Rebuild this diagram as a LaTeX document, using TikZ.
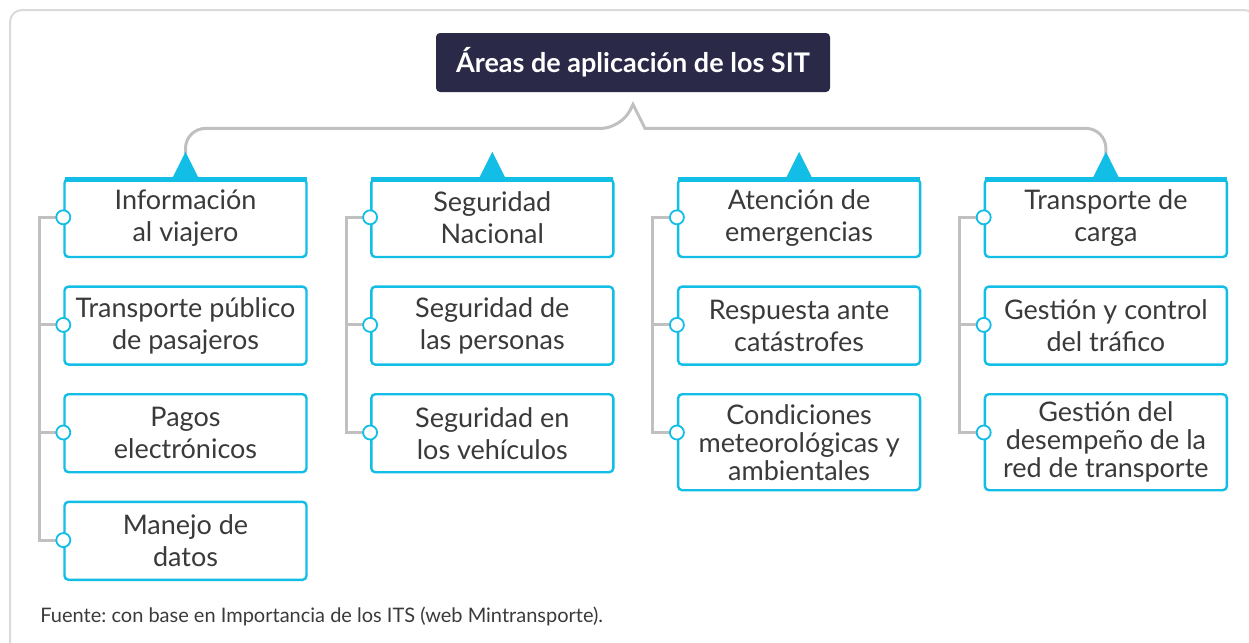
\documentclass[tikz,border=0pt]{standalone}
\usepackage{fontspec}
\setmainfont{Lato}
\frenchspacing
\usetikzlibrary{positioning,backgrounds}
\definecolor{sitcyan}{RGB}{18,189,230}
\definecolor{sitnavy}{RGB}{42,42,72}
\definecolor{sitgray}{RGB}{192,192,192}
\definecolor{sitframe}{RGB}{218,218,218}
\definecolor{sittext}{RGB}{58,58,58}
\begin{document}
\begin{tikzpicture}[
  x=0.5pt, y=-0.5pt,
  node distance=13.6pt and 31.2pt,
  area/.style={draw=sitcyan, line width=1.2pt, rounded corners=2pt, fill=white, text=sittext, align=center,
    font=\fontsize{13.5}{16}\selectfont, minimum width=121pt, minimum height=39pt, inner sep=2pt},
  tall/.style={minimum height=48pt, font=\fontsize{13.5}{14}\selectfont},
  title/.style={fill=sitnavy, text=white, rounded corners=2pt, font=\bfseries\fontsize{13.5}{16}\selectfont,
    minimum width=197pt, minimum height=29.5pt},
  dot/.style={circle, draw=sitcyan, fill=white, line width=0.9pt, minimum size=7pt, inner sep=0pt},
  link/.style={draw=sitgray, line width=1.5pt}
]
\useasboundingbox (0,0) rectangle (1249,643);
\clip (0,0) rectangle (1249,643);
\draw[sitframe, line width=1pt, rounded corners=6pt] (10,10) rectangle (1256,660);

\node[title] (sit) at (633,62.5) {Áreas de aplicación de los SIT};

% columnas
\node[area] (info) at (185.5,218) {Información\\al viajero};
\node[area, below=of info] (publico) {Transporte público\\de pasajeros};
\node[area, below=of publico] (pagos) {Pagos\\electrónicos};
\node[area, below=of pagos] (datos) {Manejo de\\datos};

\node[area, right=of info] (nacional) {Seguridad\\Nacional};
\node[area, below=of nacional] (personas) {Seguridad de\\las personas};
\node[area, below=of personas] (vehiculos) {Seguridad en\\los vehículos};

\node[area, right=of nacional] (emergencias) {Atención de\\emergencias};
\node[area, below=of emergencias] (catastrofes) {Respuesta ante\\catástrofes};
\node[area, tall, below=of catastrofes] (clima) {Condiciones\\meteorológicas y\\ambientales};

\node[area, right=of emergencias] (carga) {Transporte de\\carga};
\node[area, below=of carga] (trafico) {Gestión y control\\del tráfico};
\node[area, tall, below=of trafico] (desempeno) {Gestión del\\desempeño de la\\red de transporte};

% borde superior y triangulos
\foreach \n in {info,nacional,emergencias,carga} {
  \draw[sitcyan, line width=2.6pt] ([xshift=0.6pt,yshift=-0.8pt]\n.north west) -- ([xshift=-0.6pt,yshift=-0.8pt]\n.north east);
  \fill[sitcyan] ([xshift=-6.5pt]\n.north) -- ++(13,-26) -- ++(13,26) -- cycle;
}

% puntos
\foreach \n/\d in {info/d11,publico/d12,pagos/d13,datos/d14,
                   nacional/d21,personas/d22,vehiculos/d23,
                   emergencias/d31,catastrofes/d32,clima/d33,
                   carga/d41,trafico/d42,desempeno/d43}
  \node[dot] (\d) at ([yshift=-19.75pt]\n.north west) {};

\coordinate (notch) at ([yshift=-6pt]sit.south);

\begin{scope}[on background layer]
\draw[link] ([yshift=12pt]info.north) [rounded corners=10pt] |- ([xshift=-6pt,yshift=-12pt]notch)
  [sharp corners] -- (notch) -- ([xshift=6pt,yshift=-12pt]notch)
  [rounded corners=10pt] -| ([yshift=12pt]carga.north);
\draw[link] (d11.center) -- ++(-24,0) |- (d14.center);
\draw[link] (d12.center) -- ++(-24,0);
\draw[link] (d13.center) -- ++(-24,0);
\draw[link] (d21.center) -- ++(-24,0) |- (d23.center);
\draw[link] (d22.center) -- ++(-24,0);
\draw[link] (d31.center) -- ++(-24,0) |- (d33.center);
\draw[link] (d32.center) -- ++(-24,0);
\draw[link] (d41.center) -- ++(-24,0) |- (d43.center);
\draw[link] (d42.center) -- ++(-24,0);
\end{scope}

\node[anchor=west, inner sep=0pt, text=sittext, font=\fontsize{10}{12}\selectfont] (fuente) at (40,616)
  {Fuente: con base en Importancia de los ITS (web Mintransporte).};
\end{tikzpicture}
\end{document}
